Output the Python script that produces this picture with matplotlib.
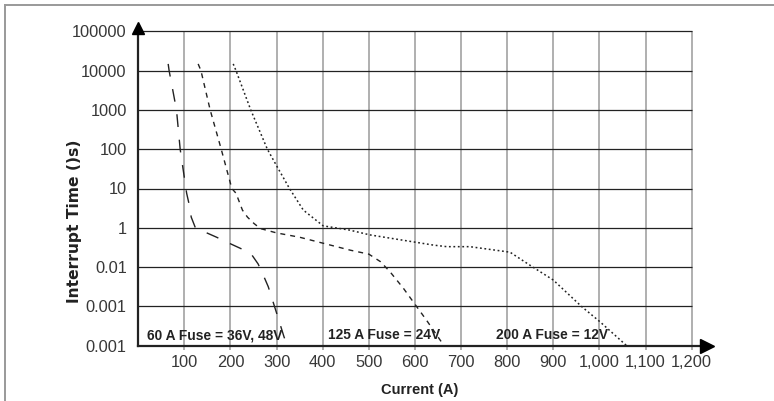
import matplotlib as mpl
import matplotlib.pyplot as plt
from matplotlib.lines import Line2D

# y axis is drawn as evenly spaced rows; row index -> printed label
Y_LABELS = ["0.001", "0.001", "0.01", "1", "10", "100", "1000", "10000", "100000"]
X_TICKS = [100, 200, 300, 400, 500, 600, 700, 800, 900, 1000, 1100, 1200]
X_LABELS = ["100", "200", "300", "400", "500", "600", "700", "800", "900",
            "1,000", "1,100", "1,200"]

# curves: current (A) vs row position on the y axis
fuse60_x = [65, 67, 83, 91, 105, 110, 115, 124, 143, 170, 195, 221, 244, 260, 271, 282, 299, 316, 323]
fuse60_y = [7.17, 7.0, 6.0, 5.0, 3.88, 3.62, 3.27, 3.0, 2.9, 2.76, 2.62, 2.48, 2.35, 2.08, 1.8, 1.5, 0.87, 0.23, 0.0]

fuse125_x = [130, 136, 156, 180, 203, 212, 226, 237, 251, 265, 300, 350, 410, 460, 500, 525, 546, 575, 604, 625, 663]
fuse125_y = [7.17, 7.0, 6.0, 5.0, 4.0, 3.88, 3.45, 3.27, 3.11, 2.98, 2.87, 2.76, 2.58, 2.43, 2.33, 2.14, 1.88, 1.46, 0.99, 0.65, 0.0]

fuse200_x = [206, 212, 244, 280, 299, 328, 358, 401, 459, 502, 640, 669, 719, 806, 849, 900, 961, 1001, 1059]
fuse200_y = [7.17, 7.0, 6.0, 5.0, 4.6, 4.0, 3.45, 3.05, 2.94, 2.82, 2.56, 2.52, 2.52, 2.38, 2.05, 1.67, 1.0, 0.61, 0.0]

FUSE_TEXT = ["60 A Fuse = 36V, 48V", "125 A Fuse = 24V", "200 A Fuse = 12V"]
FUSE_TEXT_X = [20, 412, 776]

INK = "#222222"
GRID_V = "#9a9a9a"
TEXT = "#383838"
BOLD = ["Liberation Sans", "DejaVu Sans"]

mpl.rcParams.update({
    "font.family": ["Liberation Sans", "DejaVu Sans"],
    "lines.scale_dashes": False,
})

fig = plt.figure(figsize=(7.74, 4.01), dpi=100)
fig.patch.set_facecolor("white")
ax = fig.add_axes([138.2 / 774, 1 - 345.7 / 401, 553.5 / 774, 314.4 / 401])
ax.set_xlim(0, 1200)
ax.set_ylim(0, 8)
for s in ax.spines.values():
    s.set_visible(False)

# grid
ax.vlines(X_TICKS, 0, 8, color=GRID_V, lw=1.1, zorder=1, clip_on=False)
ax.hlines(range(1, 9), 0, 1200, color=INK, lw=0.9, zorder=1, clip_on=False)

# axes with arrows
ax.plot([0, 0], [0, 8.05], color=INK, lw=1.6, zorder=3, clip_on=False)
ax.plot([0, 1222], [0, 0], color=INK, lw=1.6, zorder=3, clip_on=False)
ax.plot([0], [8.09], marker="^", ms=8.6, color="black", clip_on=False, zorder=4)
ax.plot([1234], [0], marker=">", ms=10, color="black", clip_on=False, zorder=4)

ax.set_xticks(X_TICKS)
ax.set_xticklabels(X_LABELS)
ax.set_yticks(range(len(Y_LABELS)))
ax.set_yticklabels(Y_LABELS)
ax.tick_params(axis="x", length=2.9, width=1.1, color=GRID_V, pad=3.8,
               labelsize=11.8, labelcolor=TEXT)
ax.tick_params(axis="y", length=0, pad=8.3, labelsize=11.8, labelcolor=TEXT)

# curves
l1, = ax.plot(fuse60_x, fuse60_y, color=INK, lw=1.0, zorder=2)
l1.set_dashes([9.2, 9.2])
l2, = ax.plot(fuse125_x, fuse125_y, color=INK, lw=1.0, zorder=2)
l2.set_dashes([3.6, 3.6])
l3, = ax.plot(fuse200_x, fuse200_y, color=INK, lw=1.1, zorder=2)
l3.set_dashes([1.3, 1.9])

for txt, x in zip(FUSE_TEXT, FUSE_TEXT_X):
    ax.text(x, 0.16, txt, family=BOLD, weight="bold", fontsize=9.9,
            color=INK, ha="left", va="baseline", zorder=5)

fig.text(74 / 774, 1 - 221 / 401, "Interrupt Time ()s)", rotation=90,
         family=["DejaVu Sans"], weight="bold", fontsize=11.2, color=INK,
         ha="center", va="center")
fig.text(420 / 774, 1 - 389.7 / 401, "Current (A)", family=BOLD,
         weight="bold", fontsize=10.5, color=INK, ha="center", va="center")

# outer frame (left and top edges)
fig.add_artist(Line2D([4.5 / 774, 4.5 / 774], [0, 1 - 5.3 / 401],
                      transform=fig.transFigure, color="#999999", lw=1.4))
fig.add_artist(Line2D([4.5 / 774, 1], [1 - 5.3 / 401, 1 - 5.3 / 401],
                      transform=fig.transFigure, color="#999999", lw=1.4))

fig.savefig("out.png", dpi=100)
